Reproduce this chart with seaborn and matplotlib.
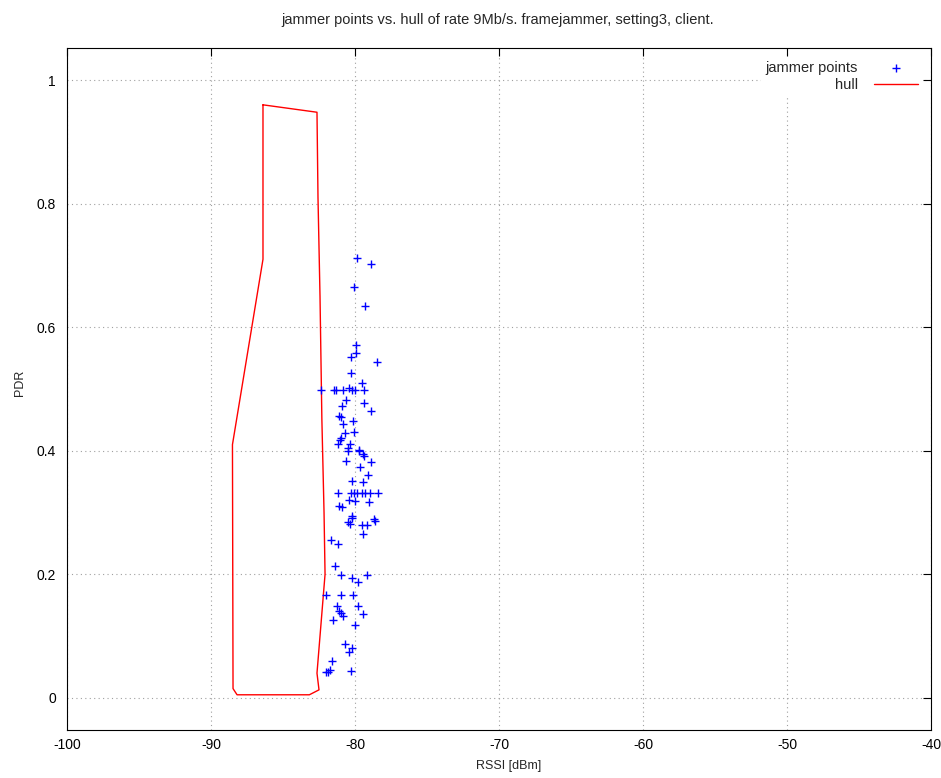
import matplotlib
matplotlib.use("Agg")
import matplotlib.pyplot as plt
import seaborn as sns
import pandas as pd

# jammer points (RSSI [dBm], PDR)
jam_rssi = [-79.84, -78.91, -80.05, -79.33, -79.91, -79.91, -80.28, -78.45, -80.30,
            -79.51, -82.38, -81.44, -81.30, -80.83, -80.42, -80.23, -80.00, -79.38,
            -80.60, -79.38, -80.93, -78.91, -81.11, -80.97, -80.14, -80.83, -80.72,
            -80.09, -80.97, -81.04, -81.20, -80.32, -80.46, -79.72, -79.40,
            -80.51, -79.75, -79.42, -80.60, -78.87, -79.63, -79.07, -80.23, -79.44,
            -81.18, -80.28, -80.09, -79.86, -79.54, -79.31, -78.94, -78.40,
            -80.44, -80.02, -79.00, -81.11, -80.93, -80.23, -80.19, -78.70, -78.61,
            -80.51, -80.32, -79.54, -79.14, -79.44,
            -81.67, -81.16, -81.39, -80.97, -80.23, -79.17, -79.77,
            -82.00, -80.97, -80.12, -81.23, -79.81,
            -81.11, -80.97, -80.81, -79.44, -81.50, -79.98, -80.69, -80.23, -80.42,
            -81.57, -81.74, -81.85, -82.00, -80.28]
jam_pdr = [0.712, 0.703, 0.665, 0.635, 0.571, 0.558, 0.551, 0.543, 0.526,
           0.509, 0.498, 0.498, 0.498, 0.498, 0.501, 0.498, 0.498, 0.498,
           0.483, 0.478, 0.472, 0.464, 0.456, 0.454, 0.449, 0.444, 0.428,
           0.430, 0.421, 0.417, 0.411, 0.411, 0.405, 0.401, 0.392,
           0.400, 0.399, 0.394, 0.384, 0.382, 0.374, 0.360, 0.351, 0.349,
           0.332, 0.332, 0.332, 0.332, 0.332, 0.332, 0.332, 0.332,
           0.320, 0.319, 0.317, 0.311, 0.309, 0.294, 0.291, 0.289, 0.286,
           0.285, 0.281, 0.280, 0.280, 0.266,
           0.255, 0.249, 0.214, 0.199, 0.194, 0.199, 0.187,
           0.166, 0.166, 0.166, 0.149, 0.149,
           0.141, 0.138, 0.133, 0.135, 0.126, 0.118, 0.088, 0.080, 0.074,
           0.059, 0.045, 0.042, 0.042, 0.043]

# hull polygon (closed)
hull_rssi = [-86.39, -82.64, -82.57, -82.43, -82.30, -82.15, -82.08, -82.64, -82.50,
             -83.17, -88.19, -88.47, -88.51, -86.39, -86.39]
hull_pdr = [0.960, 0.948, 0.810, 0.650, 0.450, 0.300, 0.200, 0.040, 0.013,
            0.005, 0.005, 0.015, 0.410, 0.710, 0.960]

x_ticks = [-100, -90, -80, -70, -60, -50, -40]
y_ticks = [0, 0.2, 0.4, 0.6, 0.8, 1]
y_tick_labels = ["0", "0.2", "0.4", "0.6", "0.8", "1"]

sns.set_theme(style="white")
plt.rcParams['font.family'] = ['Liberation Sans', 'DejaVu Sans']

fig = plt.figure(figsize=(9.41, 7.78), dpi=100)
ax = fig.add_axes([67/941, 1-730/778, (931-67)/941, (730-48)/778])

pts = pd.DataFrame({"RSSI": jam_rssi, "PDR": jam_pdr})
hull = pd.DataFrame({"RSSI": hull_rssi, "PDR": hull_pdr})

sns.scatterplot(data=pts, x="RSSI", y="PDR", marker="+", s=36, color="#0000ff",
                linewidth=1.0, ax=ax, label="jammer points", zorder=3)
sns.lineplot(data=hull, x="RSSI", y="PDR", sort=False, estimator=None,
             color="#ff0000", linewidth=1.0, ax=ax, label="hull", zorder=2)

ax.set_xlim(-100, -40)
ax.set_ylim(-0.052, 1.052)
ax.set_xticks(x_ticks)
ax.set_xticklabels([str(t) for t in x_ticks])
ax.set_yticks(y_ticks)
ax.set_yticklabels(y_tick_labels)
ax.grid(True, linestyle=(0, (1, 3)), color="#a0a0a0", linewidth=0.8)
ax.tick_params(direction="in", length=6, width=0.8, top=True, right=True,
               labelsize=10, colors="black", pad=6)
ax.tick_params(axis="y", pad=8)
for s in ax.spines.values():
    s.set_color("black")
    s.set_linewidth(0.8)

ax.set_xlabel("RSSI [dBm]", fontsize=9)
ax.set_ylabel("PDR", fontsize=9)
ax.xaxis.set_label_coords(0.5116, -0.044)
ax.yaxis.set_label_coords(-0.047, 0.509)
fig.text(498/941, 1-20/778,
         "jammer points vs. hull of rate 9Mb/s. framejammer, setting3, client.",
         fontsize=10.5, ha="center", va="center")

leg = ax.legend(loc="upper right", frameon=True, markerfirst=False, fontsize=10.5,
                handlelength=3.0, handletextpad=1.1, borderaxespad=0.6,
                borderpad=0.3, labelspacing=0.2, framealpha=1.0,
                edgecolor="white", fancybox=False)
leg.get_frame().set_linewidth(0)
for t in leg.get_texts():
    t.set_ha("right")

fig.savefig("out.png", dpi=100)
